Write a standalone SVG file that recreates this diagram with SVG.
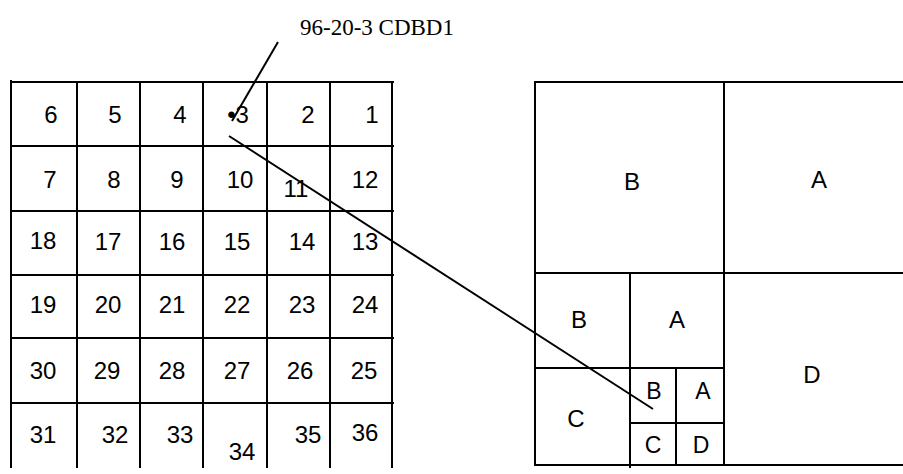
<svg xmlns="http://www.w3.org/2000/svg" width="903" height="474" viewBox="0 0 903 474">
<style>
.g{stroke:#000;stroke-width:2;fill:none;stroke-linecap:square}
.n{font-family:"Liberation Sans",Arial,sans-serif;font-size:24px;text-anchor:middle;fill:#000}
.s{font-size:23px}
.lbl{font-family:"Liberation Serif","Times New Roman",serif;font-size:23px;fill:#000}
.c{stroke:#000;stroke-width:2;fill:none}
</style>
<rect width="903" height="474" fill="#fff"/>
<g id="grid">
<path class="g" d="M11,82H393M11,146H393M11,211H393M11,275H393M11,338H393M11,403H393M11,81V467M77,82V467M140,82V467M203,82V467M267,82V467M330,82V467M392,82V467"/>
<text class="n" x="51" y="123">6</text><text class="n" x="115" y="123">5</text><text class="n" x="180" y="123">4</text>
<text class="n" x="238" y="123">•3</text><text class="n" x="308" y="123">2</text><text class="n" x="372" y="123">1</text>
<text class="n" x="50" y="188">7</text><text class="n" x="114" y="188">8</text><text class="n" x="177" y="188">9</text>
<text class="n" x="240" y="188">10</text><text class="n" x="296" y="197">11</text><text class="n" x="365" y="188">12</text>
<text class="n" x="43" y="249">18</text><text class="n" x="108" y="250">17</text><text class="n" x="172" y="250">16</text>
<text class="n" x="237" y="250">15</text><text class="n" x="302" y="250">14</text><text class="n" x="365" y="250">13</text>
<text class="n" x="43" y="313">19</text><text class="n" x="108" y="313">20</text><text class="n" x="172" y="313">21</text>
<text class="n" x="237" y="313">22</text><text class="n" x="302" y="313">23</text><text class="n" x="365" y="313">24</text>
<text class="n" x="43" y="379">30</text><text class="n" x="107" y="379">29</text><text class="n" x="172" y="379">28</text>
<text class="n" x="237" y="379">27</text><text class="n" x="300" y="379">26</text><text class="n" x="364" y="379">25</text>
<text class="n" x="43" y="443">31</text><text class="n" x="115" y="443">32</text><text class="n" x="180" y="443">33</text>
<text class="n" x="242" y="460">34</text><text class="n" x="308" y="443">35</text><text class="n" x="365" y="441">36</text>
</g>
<g id="quadtree">
<path class="g" d="M535,82H903M535,273H903M535,465H903M535,82V465M724,82V465M535,368H724M630,274V467M676,368V465M630,423H724"/>
<text class="n" x="632" y="190">B</text>
<text class="n" x="819" y="188">A</text>
<text class="n" x="579" y="328">B</text>
<text class="n" x="677" y="328">A</text>
<text class="n" x="576" y="427">C</text>
<text class="n" x="812" y="383">D</text>
<text class="n s" x="654" y="399">B</text>
<text class="n s" x="703" y="399">A</text>
<text class="n s" x="653" y="453">C</text>
<text class="n s" x="701" y="453">D</text>
</g>
<g id="label">
<text class="lbl" x="300" y="35">96-20-3 CDBD1</text>
</g>
<g id="connectors">
<line class="c" x1="278" y1="42" x2="232" y2="121"/>
<line class="c" x1="229" y1="136" x2="653" y2="409"/>
</g>
</svg>
